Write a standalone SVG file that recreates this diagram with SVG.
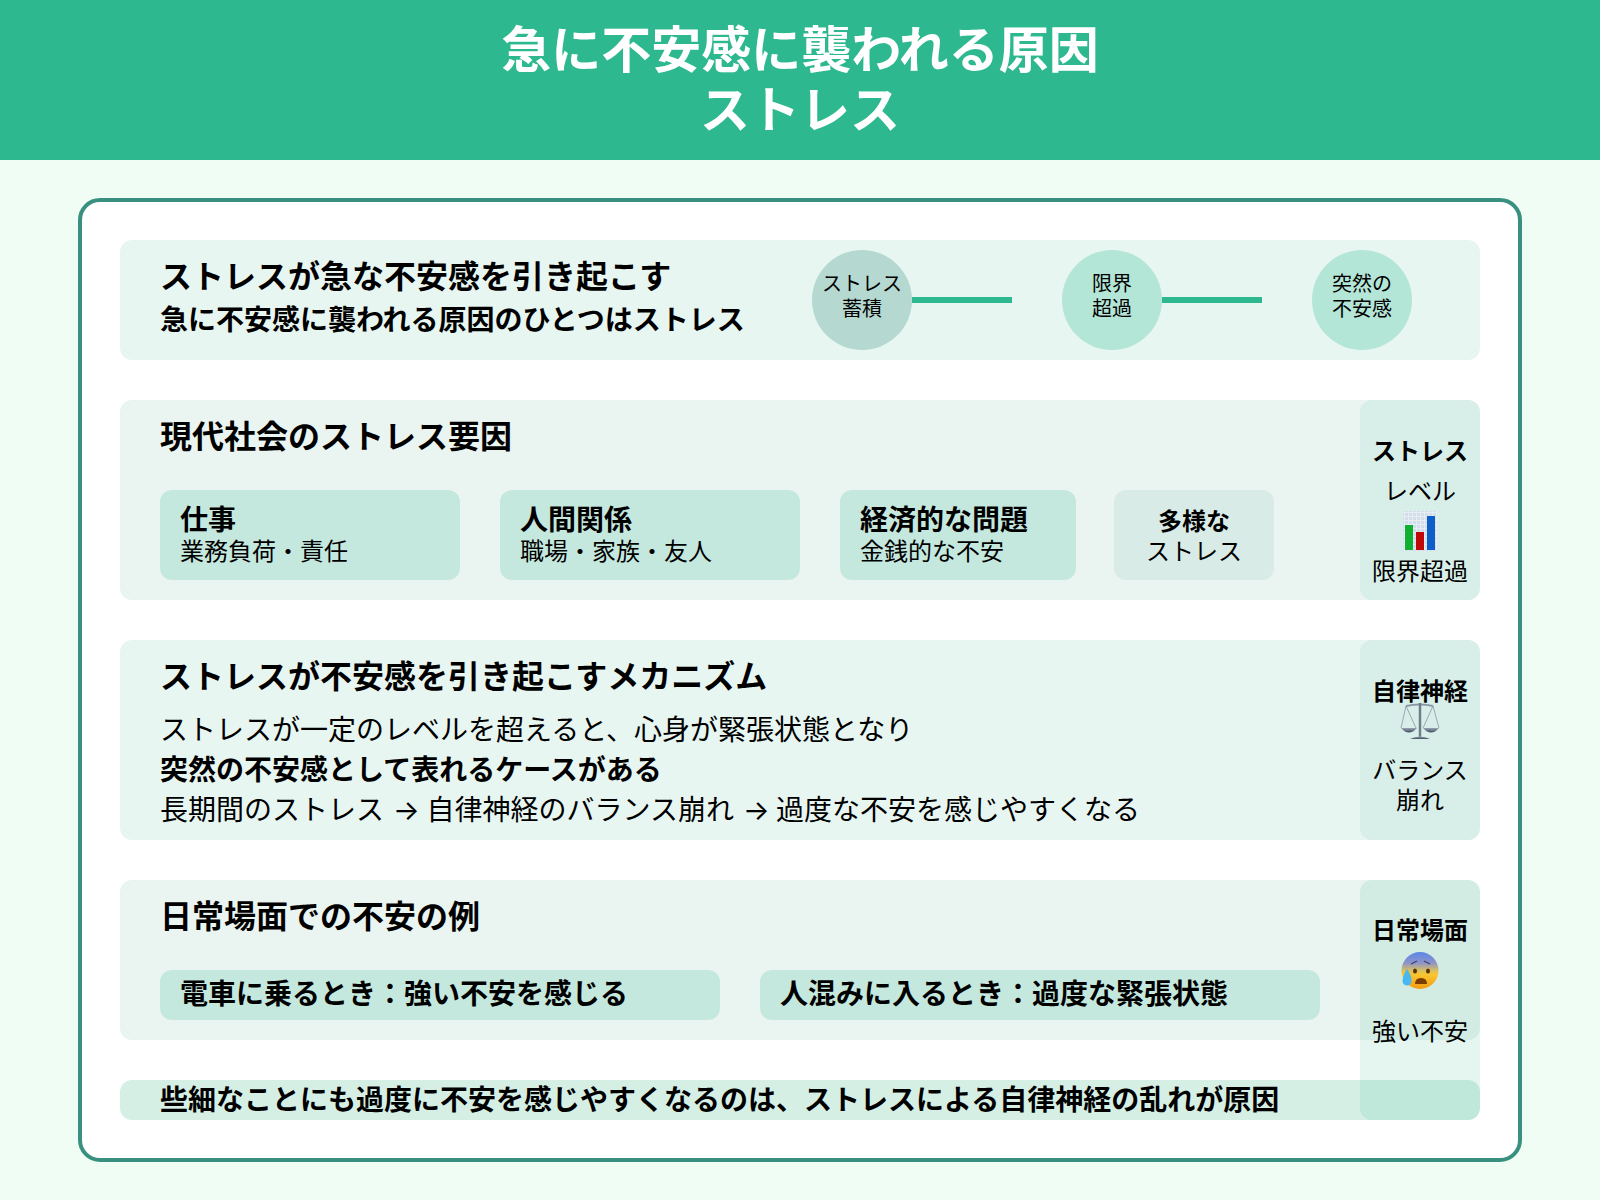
<svg xmlns="http://www.w3.org/2000/svg" width="1600" height="1200" viewBox="0 0 1600 1200">
<style>
text{font-family:"Noto Sans CJK JP","Noto Sans",sans-serif;fill:#000}
.b{font-weight:700}
.c{text-anchor:middle}
.t{font-size:50px;font-weight:700;fill:#fff;text-anchor:middle}
.h{font-size:32px;font-weight:700}
.m{font-size:28px}
.s{font-size:24px}
.x{font-size:20px;text-anchor:middle}
.chip{fill:#c5e8de}
.side{fill:#d8eee8}
.arrow{font-family:Inter,"Noto Sans CJK JP",sans-serif;font-size:28px}
</style>
<defs>
<linearGradient id="face" x1="0" y1="0" x2="0" y2="1"><stop offset="0" stop-color="#5b86ea"/><stop offset=".3" stop-color="#8f94c8"/><stop offset=".5" stop-color="#d8c060"/><stop offset=".62" stop-color="#fbc52e"/><stop offset="1" stop-color="#f29a12"/></linearGradient>
<linearGradient id="pan" x1="0" y1="0" x2="0" y2="1"><stop offset="0" stop-color="#9aa6b4"/><stop offset="1" stop-color="#3f4c5c"/></linearGradient>
<pattern id="grid" width="4" height="4" patternUnits="userSpaceOnUse"><rect width="4" height="4" fill="#d3deea"/><path d="M0 .5H4M.5 0V4" stroke="#e6edf4" stroke-width="1"/></pattern>
</defs>
<rect width="1600" height="1200" fill="#f0fdf4"/>
<g id="header"><rect width="1600" height="160" fill="#2db88f"/>
<text class="t" x="800" y="68">急に不安感に襲われる原因</text>
<text class="t" x="800" y="128">ストレス</text></g>
<rect id="card" x="80" y="200" width="1440" height="960" rx="20" fill="#fff" stroke="#3a9080" stroke-width="4"/>
<g id="row1"><rect x="120" y="240" width="1360" height="120" rx="12" fill="#e8f6f2"/>
<text class="h" x="160" y="288">ストレスが急な不安感を引き起こす</text>
<text class="m b" x="160" y="330">急に不安感に襲われる原因のひとつはストレス</text></g>
<g id="connectors"><rect x="912" y="297" width="100" height="6" fill="#2db88f"/><rect x="1162" y="297" width="100" height="6" fill="#2db88f"/></g>
<g id="step1"><circle cx="862" cy="300" r="50" fill="#b5d8d0"/><text class="x" x="862" y="291">ストレス</text><text class="x" x="862" y="316">蓄積</text></g>
<g id="step2"><circle cx="1112" cy="300" r="50" fill="#b3e6d6"/><text class="x" x="1112" y="291">限界</text><text class="x" x="1112" y="316">超過</text></g>
<g id="step3"><circle cx="1362" cy="300" r="50" fill="#b3e6d6"/><text class="x" x="1362" y="291">突然の</text><text class="x" x="1362" y="316">不安感</text></g>
<g id="row2"><rect x="120" y="400" width="1360" height="200" rx="12" fill="#eaf4f1"/>
<text class="h" x="160" y="448">現代社会のストレス要因</text></g>
<g id="chip-work"><rect class="chip" x="160" y="490" width="300" height="90" rx="12"/><text class="m b" x="180" y="530">仕事</text><text class="s" x="180" y="559.500">業務負荷・責任</text></g>
<g id="chip-people"><rect class="chip" x="500" y="490" width="300" height="90" rx="12"/><text class="m b" x="520" y="530">人間関係</text><text class="s" x="520" y="559.500">職場・家族・友人</text></g>
<g id="chip-money"><rect class="chip" x="840" y="490" width="236" height="90" rx="12"/><text class="m b" x="860" y="530">経済的な問題</text><text class="s" x="860" y="559.500">金銭的な不安</text></g>
<g id="chip-various"><rect x="1114" y="490" width="160" height="90" rx="12" fill="#d8ebe6"/><text class="s b c" x="1194" y="530">多様な</text><text class="s c" x="1194" y="559.500">ストレス</text></g>
<g id="side-level"><rect class="side" x="1360" y="400" width="120" height="200" rx="12"/>
<text class="s b c" x="1420" y="460">ストレス</text><text class="s c" x="1420" y="500">レベル</text>
<rect x="1403" y="511" width="34" height="40" fill="url(#grid)"/><rect x="1405" y="525" width="8" height="25" fill="#10b030"/><rect x="1416" y="532" width="8" height="18" fill="#c00808"/><rect x="1427" y="516" width="8" height="34" fill="#0a60c8"/>
<text class="s c" x="1420" y="580">限界超過</text></g>
<g id="row3"><rect x="120" y="640" width="1360" height="200" rx="12" fill="#e8f6f2"/>
<text class="h" x="160" y="688">ストレスが不安感を引き起こすメカニズム</text>
<text class="m" x="160" y="740">ストレスが一定のレベルを超えると、心身が緊張状態となり</text>
<text class="m b" x="160" y="780">突然の不安感として表れるケースがある</text>
<text class="m" y="820"><tspan x="160">長期間のストレス</tspan><tspan class="arrow" x="393">→</tspan><tspan x="426.500">自律神経のバランス崩れ</tspan><tspan class="arrow" x="743">→</tspan><tspan x="776">過度な不安を感じやすくなる</tspan></text></g>
<g id="side-balance"><rect class="side" x="1360" y="640" width="120" height="200" rx="12"/>
<text class="s b c" x="1420" y="700">自律神経</text>
<g fill="none" stroke="#8a97a5"><path d="M1406 706Q1420 703 1433 706" stroke-width="2"/><path d="M1420 703V737" stroke-width="2.500" stroke="#6f7d8c"/><path d="M1406 706L1401 728M1406 706L1416 728M1433 706L1423 728M1433 706L1439 728" stroke-width=".8"/></g>
<path d="M1401 728H1417Q1409 737 1401 728ZM1423 728H1439Q1431 737 1423 728Z" fill="url(#pan)"/><path d="M1410 739Q1420 734 1430 739Z" fill="url(#pan)"/>
<text class="s c" x="1420" y="779">バランス</text><text class="s c" x="1420" y="809">崩れ</text></g>
<g id="row4"><rect x="120" y="880" width="1360" height="160" rx="12" fill="#eaf4f1"/>
<text class="h" x="160" y="928">日常場面での不安の例</text></g>
<g id="chip-train"><rect class="chip" x="160" y="970" width="560" height="50" rx="12"/><text class="m b" x="180" y="1004">電車に乗るとき：強い不安を感じる</text></g>
<g id="chip-crowd"><rect class="chip" x="760" y="970" width="560" height="50" rx="12"/><text class="m b" x="780" y="1004">人混みに入るとき：過度な緊張状態</text></g>
<g id="row5"><rect x="120" y="1080" width="1360" height="40" rx="12" fill="#d5efe5"/>
<text class="m b" x="160" y="1110">些細なことにも過度に不安を感じやすくなるのは、ストレスによる自律神経の乱れが原因</text></g>
<g id="side-daily"><rect x="1360" y="880" width="120" height="240" rx="12" fill="#2db88f" fill-opacity=".12"/>
<text class="s b c" x="1420" y="939">日常場面</text>
<circle cx="1420" cy="970.500" r="18.500" fill="url(#face)"/><path d="M1411 964l6 -3M1430 964l-6 -3" fill="none" stroke="#3c4468" stroke-width="1.300"/><ellipse cx="1415" cy="971" rx="2" ry="2.500" fill="#5a3000"/><ellipse cx="1428" cy="971" rx="2" ry="2.500" fill="#5a3000"/><path d="M1415 984q0 -6 6 -6q6 0 6 6z" fill="#7a3d00"/><path d="M1407 969q5 7 4.500 12a4.500 4.500 0 0 1 -9 0q0 -5 4.500 -12z" fill="#48b8f0"/>
<text class="s c" x="1420" y="1040">強い不安</text></g>
</svg>
